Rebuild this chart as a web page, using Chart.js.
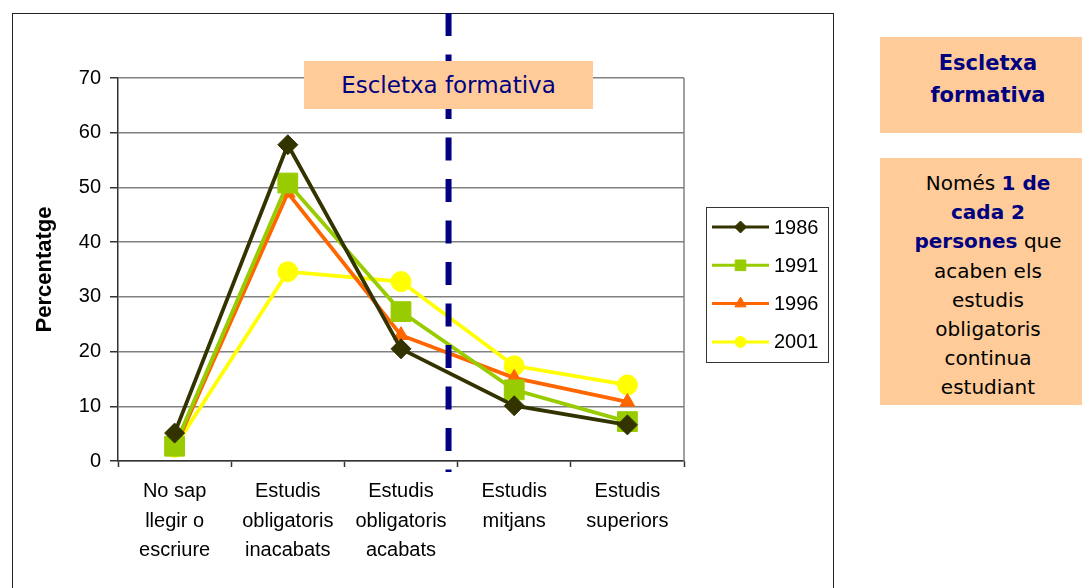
<!DOCTYPE html>
<html>
<head>
<meta charset="utf-8">
<script src="https://cdn.jsdelivr.net/npm/chart.js@4.4.1/dist/chart.umd.min.js"></script>
<style>
  html, body { margin: 0; padding: 0; background: #fff; overflow: hidden; }
  body { width: 1082px; height: 588px; position: relative; }
  #frame { position: absolute; left: 12px; top: 13px; width: 822px; height: 600px; border: 1px solid #222; box-sizing: border-box; }
  #wrap { position: absolute; left: 0; top: 0; width: 1082px; height: 588px; }
  .peach { position: absolute; background: #FFCC99; text-align: center; font-family: "DejaVu Sans", sans-serif; }
  #inbox { left: 304px; top: 61px; width: 289px; height: 48px; line-height: 48px; font-size: 23px; color: #000080; }
  #box1 { left: 880px; top: 37px; width: 216px; height: 96px; box-sizing: border-box; padding-top: 10px; font-size: 21px; font-weight: bold; line-height: 32px; color: #000080; }
  #box2 { left: 880px; top: 158px; width: 216px; height: 247px; box-sizing: border-box; padding-top: 11px; font-size: 20px; line-height: 29.2px; color: #000; }
  #box2 b { color: #000080; }
</style>
</head>
<body>
<div id="frame"></div>
<div id="wrap"><canvas id="c" width="1082" height="588"></canvas></div>
<div id="inbox" class="peach">Escletxa formativa</div>
<div id="box1" class="peach">Escletxa<br>formativa</div>
<div id="box2" class="peach">Només <b>1 de<br>cada 2<br>persones</b> que<br>acaben els<br>estudis<br>obligatoris<br>continua<br>estudiant</div>
<script>
// ---- data ----
const categories = [
  ["No sap", "llegir o", "escriure"],
  ["Estudis", "obligatoris", "inacabats"],
  ["Estudis", "obligatoris", "acabats"],
  ["Estudis", "mitjans"],
  ["Estudis", "superiors"]
];
const seriesNames = ["1986", "1991", "1996", "2001"];
const values1986 = [5.1, 57.8, 20.5, 10.1, 6.6];
const values1991 = [2.7, 50.8, 27.3, 13.0, 7.2];
const values1996 = [2.3, 49.0, 23.0, 15.2, 10.8];
const values2001 = [2.5, 34.6, 32.8, 17.4, 13.9];
const yTicks = [0, 10, 20, 30, 40, 50, 60, 70];
const gapPosition = 2.42; // category-axis position of the "escletxa" divider
const yTitle = "Percentatge";

// ---- styles ----
const colors = ["#333300", "#99CC00", "#FF6600", "#FFFF00"];
const pointStyles = ["rectRot", "rect", "triangle", "circle"];
const pointRadii = [10, 14, 8.5, 10];
const legendRadii = [6, 7.5, 6.5, 5.5];
const allValues = [values1986, values1991, values1996, values2001];

const datasets = seriesNames.map((name, i) => ({
  label: name,
  data: allValues[i],
  borderColor: colors[i],
  backgroundColor: colors[i],
  pointBackgroundColor: colors[i],
  pointBorderColor: colors[i],
  borderWidth: 3.8,
  pointStyle: pointStyles[i],
  pointRadius: pointRadii[i],
  pointBorderWidth: 1,
  tension: 0,
  _legendRadius: legendRadii[i]
}));

const FONT = "'Liberation Sans', Arial, sans-serif";

const extras = {
  id: 'extras',
  beforeDatasetsDraw(chart) {
    const ctx = chart.ctx, a = chart.chartArea;
    ctx.save();
    ctx.strokeStyle = '#808080';
    ctx.lineWidth = 1.5;
    ctx.beginPath();
    ctx.moveTo(a.right, a.top);
    ctx.lineTo(a.right, a.bottom);
    ctx.stroke();
    ctx.restore();
  },
  afterDatasetsDraw(chart) {
    const ctx = chart.ctx;
    const x = chart.scales.x.getPixelForValue(gapPosition);
    ctx.save();
    ctx.strokeStyle = '#000080';
    ctx.lineWidth = 6;
    ctx.setLineDash([23, 18.5]);
    ctx.beginPath();
    ctx.moveTo(x, 13);
    ctx.lineTo(x, 472);
    ctx.stroke();
    ctx.restore();

    // legend box
    const lx = 706, ly = 207, lw = 122, lh = 155;
    ctx.save();
    ctx.fillStyle = '#fff';
    ctx.fillRect(lx, ly, lw, lh);
    ctx.strokeStyle = '#333';
    ctx.lineWidth = 1;
    ctx.strokeRect(lx + 0.5, ly + 0.5, lw, lh);
    chart.data.datasets.forEach((ds, i) => {
      const y = ly + 20 + i * 38.3;
      ctx.strokeStyle = ds.borderColor;
      ctx.lineWidth = 3;
      ctx.beginPath();
      ctx.moveTo(712, y);
      ctx.lineTo(769, y);
      ctx.stroke();
      ctx.fillStyle = ds.borderColor;
      ctx.lineWidth = 1;
      Chart.helpers.drawPoint(ctx, {pointStyle: ds.pointStyle, radius: ds._legendRadius, rotation: 0, borderWidth: 1}, 740.5, y);
      ctx.fillStyle = '#000';
      ctx.font = "20px " + FONT;
      ctx.textBaseline = 'middle';
      ctx.textAlign = 'left';
      ctx.fillText(ds.label, 774, y + 1);
    });
    ctx.restore();
  }
};

new Chart(document.getElementById('c'), {
  type: 'line',
  data: { labels: categories, datasets },
  options: {
    responsive: false,
    animation: false,
    events: [],
    layout: { padding: { left: 12, top: 78, right: 398, bottom: 0 } },
    plugins: { legend: { display: false }, tooltip: { enabled: false } },
    scales: {
      x: {
        offset: true,
        grid: { display: true, drawOnChartArea: false, offset: true, tickLength: 6, tickColor: '#333', tickWidth: 1.5 },
        border: { display: true, color: '#333', width: 1.5 },
        ticks: { color: '#000', font: { family: FONT, size: 20, lineHeight: 1.475 }, padding: 10, maxRotation: 0, autoSkip: false },
        afterFit(s) { s.height = 127; }
      },
      y: {
        min: 0, max: 70,
        afterBuildTicks(s) { s.ticks = yTicks.map(v => ({ value: v })); },
        grid: { color: '#808080', lineWidth: 1.5, tickLength: 8, tickColor: '#333', tickWidth: 1.5 },
        border: { display: true, color: '#333', width: 1.5 },
        ticks: { color: '#000', font: { family: FONT, size: 20 }, padding: 9 },
        title: { display: true, text: yTitle, color: '#000', font: { family: FONT, size: 22, weight: 'bold', lineHeight: 1.2 }, padding: { top: 20, bottom: 0 } },
        afterFit(s) { s.width = 106; }
      }
    }
  },
  plugins: [extras]
});
</script>
</body>
</html>
